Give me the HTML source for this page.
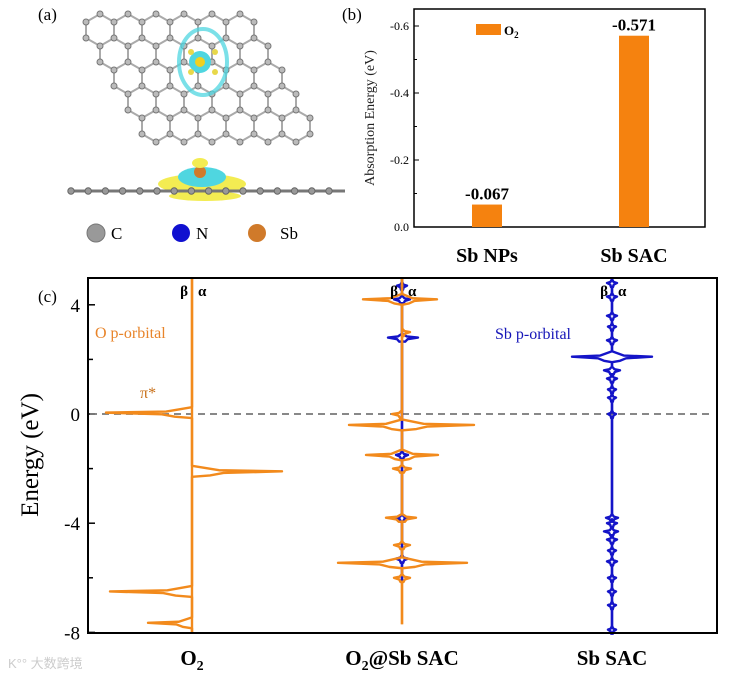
<!DOCTYPE html>
<html><head><meta charset="utf-8"><style>
html,body{margin:0;padding:0;background:#fff;}
svg{display:block;font-family:"Liberation Serif",serif;}
</style></head><body>
<svg id="fig" width="736" height="678" viewBox="0 0 736 678" xmlns="http://www.w3.org/2000/svg">
<rect width="736" height="678" fill="#fff"/>
<g id="pa">
<text x="38" y="20" font-size="17">(a)</text>
<g id="lattice"></g>
<g>
<ellipse cx="203" cy="62" rx="24" ry="33" fill="none" stroke="#4fd6e0" stroke-width="4" opacity="0.75"/>
<circle cx="200" cy="62" r="11" fill="#4fd6e0"/>
<circle cx="200" cy="62" r="5" fill="#f0d020"/>
<circle cx="191" cy="52" r="3" fill="#e8d84a"/><circle cx="215" cy="52" r="3" fill="#e8d84a"/>
<circle cx="191" cy="72" r="3" fill="#e8d84a"/><circle cx="215" cy="72" r="3" fill="#e8d84a"/>
</g>
<g id="side">
<ellipse cx="202" cy="184" rx="44" ry="10" fill="#f3ec52"/>
<ellipse cx="202" cy="177" rx="24" ry="10" fill="#4fd6e0"/>
<circle cx="200" cy="172" r="6" fill="#d07a2a"/>
<ellipse cx="200" cy="163" rx="8" ry="5" fill="#f3ec52"/>
<ellipse cx="205" cy="196" rx="36" ry="5" fill="#f3ec52"/>
</g>
<g font-size="17">
<circle cx="96" cy="233" r="9" fill="#999" stroke="#777"/><text x="111" y="239">C</text>
<circle cx="181" cy="233" r="9" fill="#1010d0"/><text x="196" y="239">N</text>
<circle cx="257" cy="233" r="9" fill="#d07a2a"/><text x="280" y="239">Sb</text>
</g>
</g>
<g id="pb">
<text x="342" y="20" font-size="17">(b)</text>
<rect x="414" y="9" width="291" height="218" fill="none" stroke="#000" stroke-width="1.5"/>
<text transform="translate(374,118) rotate(-90)" font-size="14" text-anchor="middle" fill="#222">Absorption Energy (eV)</text>
<g id="bTicks"></g>
<g id="bBars"></g>
<rect x="476" y="24" width="25" height="11" fill="#f5820f"/>
<text x="504" y="35" font-size="13" font-weight="bold">O<tspan font-size="9" dy="3">2</tspan></text>
</g>
<g id="pc">
<text x="38" y="302" font-size="17">(c)</text>
<text transform="translate(38,455) rotate(-90)" font-size="25" text-anchor="middle">Energy (eV)</text>
<g id="cTicks"></g>
<line id="fermi" stroke="#777" stroke-width="1.8" stroke-dasharray="7,5"/>
<g id="cSeries"></g>
<rect x="88" y="278" width="629" height="355" fill="none" stroke="#000" stroke-width="2"/>
<text x="95" y="338" font-size="16" fill="#e8842a">O p-orbital</text>
<text x="140" y="398" font-size="16" fill="#c8701a">π*</text>
<text x="495" y="339" font-size="16" fill="#1515b8">Sb p-orbital</text>
<g id="cLabels" font-weight="bold"></g>
<text x="8" y="668" font-size="13" fill="#ccc" font-family="'Liberation Sans','Noto Sans CJK SC',sans-serif">K°° 大数跨境</text>
</g>
</svg>
<script>
const bCats=["Sb NPs","Sb SAC"];
const bVals=[-0.067,-0.571];
const bTickVals=[0,-0.2,-0.4,-0.6];
const bTickLabels=["0.0","-0.2","-0.4","-0.6"];
const cCats=["O2","O2@Sb SAC","Sb SAC"];
const cTickVals=[4,0,-4,-8];
const o2AlphaE=[-2.1];
const o2AlphaA=[9.0];
const o2BetaE=[0.05,-6.5,-7.65];
const o2BetaA=[8.6,8.2,4.4];
const midOrAlphaE=[4.2,-0.4,-1.5,-3.8,-5.45,3.0,-2.0,-4.8,-6.0];
const midOrAlphaA=[3.5,7.2,3.6,1.4,6.5,0.8,0.9,0.8,0.8];
const midOrBetaE=[4.2,-0.4,-1.5,-3.8,-5.45,0.0,-2.0,-4.8,-6.0];
const midOrBetaA=[3.9,5.3,3.6,1.6,6.4,1.0,0.9,0.8,0.8];
const midBlAlphaE=[4.2,2.8,-1.5,-3.8,-5.3,4.7];
const midBlAlphaA=[0.8,1.6,0.6,0.6,0.6,0.5];
const midBlBetaE=[4.2,2.8,-1.5,-3.8,-5.3,4.7];
const midBlBetaA=[0.8,1.4,0.6,0.6,0.6,0.5];
const sbAlphaE=[4.8,4.3,3.6,3.2,2.7,2.1,1.6,1.3,0.9,0.6,0.0,-3.8,-4.0,-4.3,-4.6,-5.0,-5.4,-6.0,-6.5,-7.0,-7.9];
const sbAlphaA=[0.5,0.5,0.5,0.4,0.5,4.0,0.8,0.5,0.4,0.4,0.4,0.6,0.5,0.6,0.5,0.4,0.5,0.4,0.4,0.4,0.4];
const sbBetaE=sbAlphaE.slice();
const sbBetaA=[0.5,0.5,0.5,0.4,0.5,4.0,0.8,0.5,0.4,0.4,0.4,0.6,0.5,0.8,0.5,0.4,0.5,0.4,0.4,0.4,0.4];

const NS="http://www.w3.org/2000/svg";
function mk(tag,attrs,parent){const e=document.createElementNS(NS,tag);for(const k in attrs)e.setAttribute(k,attrs[k]);parent.appendChild(e);return e;}

const lat=document.getElementById('lattice');
const pts={};const bonds={};
for(let r=0;r<5;r++)for(let c=0;c<6;c++){
 const cx=100+28*c+14*r, cy=30+24*r; const v=[];
 for(let k=0;k<6;k++){const a=Math.PI/180*(90+60*k);v.push([Math.round(cx+16.2*Math.cos(a)),Math.round(cy-16.2*Math.sin(a))]);}
 for(let k=0;k<6;k++){const p=v[k],q=v[(k+1)%6];pts[p.join()]=p;const key=[p.join(),q.join()].sort().join('|');bonds[key]=[p,q];}
}
for(const k in bonds){const [p,q]=bonds[k];mk('line',{x1:p[0],y1:p[1],x2:q[0],y2:q[1],stroke:'#aaa','stroke-width':2},lat);}
for(const k in pts){const p=pts[k];mk('circle',{cx:p[0],cy:p[1],r:3,fill:'#bbb',stroke:'#777','stroke-width':1},lat);}
const side=document.getElementById('side');
mk('line',{x1:70,y1:191,x2:345,y2:191,stroke:'#777','stroke-width':3},side);
for(let x=71;x<=345;x+=17.2){mk('circle',{cx:x,cy:191,r:3.2,fill:'#999',stroke:'#666'},side);}

const bY=v=>227+v/0.6*201;
const bX=i=>[487,634][i];
const bt=document.getElementById('bTicks');
bTickVals.forEach((v,i)=>{
 const t=mk('text',{x:409,y:bY(v)+4,'font-size':12,'text-anchor':'end'},bt);t.textContent=bTickLabels[i];
 
 
 mk('line',{x1:414,x2:419,y1:bY(v),y2:bY(v),stroke:'#000'},bt);
 if(i<3)mk('line',{x1:414,x2:417,y1:bY(v-0.1),y2:bY(v-0.1),stroke:'#000'},bt);
});
const bb=document.getElementById('bBars');
bVals.forEach((v,i)=>{
 const r=mk('rect',{x:bX(i)-15,y:bY(v),width:30,height:227-bY(v),fill:'#f5820f'},bb);
 
 
 const t=mk('text',{x:bX(i),y:bY(v)-5,'font-size':17,'font-weight':'bold','text-anchor':'middle'},bb);t.textContent=v.toFixed(3);
 
 
 const c=mk('text',{x:bX(i),y:262,'font-size':20,'font-weight':'bold','text-anchor':'middle'},bb);c.textContent=bCats[i];
 
 
});

const cY=e=>414-e*27.3;
const colX=[192,402,612];
const unit=10;
const ct=document.getElementById('cTicks');
cTickVals.forEach(v=>{
 const t=mk('text',{x:80,y:cY(v)+7,'font-size':19,'text-anchor':'end'},ct);t.textContent=String(v);
 
 
 mk('line',{x1:88,x2:95,y1:cY(v),y2:cY(v),stroke:'#000','stroke-width':1.5},ct);
 if(v>-8)mk('line',{x1:88,x2:93,y1:cY(v-2),y2:cY(v-2),stroke:'#000','stroke-width':1.5},ct);
});
const f=document.getElementById('fermi');
f.setAttribute('x1',90);f.setAttribute('x2',714);f.setAttribute('y1',cY(0));f.setAttribute('y2',cY(0));

function spectrum(col,E,A,dir,color,name,top,bot){
 const cx=colX[col];
 const order=E.map((e,i)=>i).sort((a,b)=>E[b]-E[a]);
 let d=`M${cx},${cY(top)}`;
 order.forEach(i=>{
  const e=E[i],a=A[i]*unit*dir,w=A[i]>2?0.2:0.14;
  d+=` L${cx},${cY(e+w)} L${cx+a*0.3},${cY(e+0.04)} L${cx+a},${cY(e)} L${cx+a*0.35},${cY(e-0.06)} L${cx+a*0.2},${cY(e-0.15)} L${cx},${cY(e-w)}`;
 });
 d+=` L${cx},${cY(bot)}`;
 const p=mk('path',{d:d,fill:'none',stroke:color,'stroke-width':2.4,'stroke-linejoin':'round'},document.getElementById('cSeries'));
 
 
}
const OR='#f28a1c',BL='#1414c8';
spectrum(0,o2AlphaE,o2AlphaA,1,OR,'o2-alpha-dos',5,-8);
spectrum(0,o2BetaE,o2BetaA,-1,OR,'o2-beta-dos',5,-8);
spectrum(1,midBlAlphaE,midBlAlphaA,1,BL,'o2-sb-sac-sb-alpha-dos',5,-6.2);
spectrum(1,midBlBetaE,midBlBetaA,-1,BL,'o2-sb-sac-sb-beta-dos',5,-6.2);
spectrum(1,midOrAlphaE,midOrAlphaA,1,OR,'o2-sb-sac-o-alpha-dos',5,-7.7);
spectrum(1,midOrBetaE,midOrBetaA,-1,OR,'o2-sb-sac-o-beta-dos',5,-7.7);
spectrum(2,sbAlphaE,sbAlphaA,1,BL,'sb-sac-alpha-dos',5,-8);
spectrum(2,sbBetaE,sbBetaA,-1,BL,'sb-sac-beta-dos',5,-8);

const cl=document.getElementById('cLabels');
colX.forEach((x,i)=>{
 const b=mk('text',{x:x-4,y:296,'font-size':15,'text-anchor':'end'},cl);b.textContent='β';
 
 
 const a=mk('text',{x:x+6,y:296,'font-size':15},cl);a.textContent='α';
 
 
 const t=mk('text',{x:x,y:665,'font-size':21,'text-anchor':'middle'},cl);
 if(i===0){t.innerHTML='O<tspan font-size="14" dy="5">2</tspan>';}
 else if(i===1){t.innerHTML='O<tspan font-size="14" dy="5">2</tspan><tspan dy="-5">@Sb SAC</tspan>';}
 else t.textContent=cCats[i];
 
 
});
</script>
</body></html>
